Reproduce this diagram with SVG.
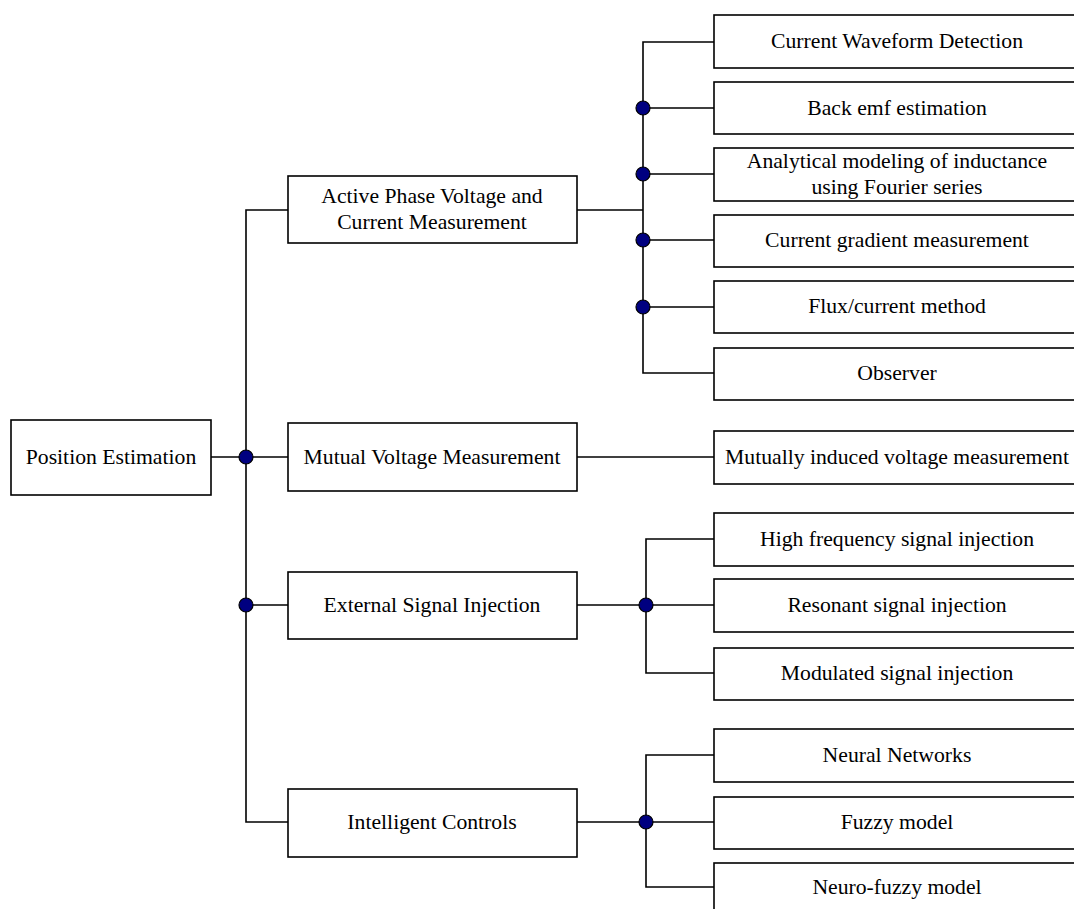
<svg xmlns="http://www.w3.org/2000/svg" width="1074" height="909" viewBox="0 0 1074 909">
  <style>
    .box { fill: #ffffff; stroke: #000000; stroke-width: 1.6; }
    .lbl { font-family: "Liberation Serif", "Times New Roman", serif; font-size: 21.7px; fill: #000000; text-anchor: middle; dominant-baseline: central; }
    .wire { fill: none; stroke: #000000; stroke-width: 1.6; }
    .dot { fill: #000080; stroke: #000000; stroke-width: 1.2; }
  </style>
  <rect width="1074" height="909" fill="#ffffff"/>

  <!-- connectors -->
  <g id="connectors">
    <!-- root to first level -->
    <path class="wire" d="M211 457 H288"/>
    <path class="wire" d="M288 210 H246 V822 H288"/>
    <path class="wire" d="M246 605 H288"/>
    <!-- active phase branch -->
    <path class="wire" d="M577 210 H643"/>
    <path class="wire" d="M714 42 H643 V373 H714"/>
    <path class="wire" d="M643 108 H714 M643 174 H714 M643 240 H714 M643 307 H714"/>
    <!-- mutual branch -->
    <path class="wire" d="M577 457 H714"/>
    <!-- external signal branch -->
    <path class="wire" d="M577 605 H714"/>
    <path class="wire" d="M714 539 H646 V673 H714"/>
    <!-- intelligent controls branch -->
    <path class="wire" d="M577 822 H714"/>
    <path class="wire" d="M714 755 H646 V887 H714"/>
    <!-- junction dots -->
    <circle class="dot" cx="246" cy="457" r="7"/>
    <circle class="dot" cx="246" cy="605" r="7"/>
    <circle class="dot" cx="643" cy="108" r="7"/>
    <circle class="dot" cx="643" cy="174" r="7"/>
    <circle class="dot" cx="643" cy="240" r="7"/>
    <circle class="dot" cx="643" cy="307" r="7"/>
    <circle class="dot" cx="646" cy="605" r="7"/>
    <circle class="dot" cx="646" cy="822" r="7"/>
  </g>

  <!-- root -->
  <g id="position-estimation">
    <rect class="box" x="11" y="420" width="200" height="75"/>
    <text class="lbl" x="111" y="457">Position Estimation</text>
  </g>

  <!-- first level -->
  <g id="active-phase">
    <rect class="box" x="288" y="176" width="289" height="67"/>
    <text class="lbl" x="432" y="196">Active Phase Voltage and</text>
    <text class="lbl" x="432" y="222">Current Measurement</text>
  </g>
  <g id="mutual-voltage">
    <rect class="box" x="288" y="423" width="289" height="68"/>
    <text class="lbl" x="432" y="457">Mutual Voltage Measurement</text>
  </g>
  <g id="external-signal">
    <rect class="box" x="288" y="572" width="289" height="67"/>
    <text class="lbl" x="432" y="605">External Signal Injection</text>
  </g>
  <g id="intelligent-controls">
    <rect class="box" x="288" y="789" width="289" height="68"/>
    <text class="lbl" x="432" y="822">Intelligent Controls</text>
  </g>

  <!-- second level: active phase methods -->
  <g id="current-waveform">
    <rect class="box" x="714" y="15" width="370" height="53"/>
    <text class="lbl" x="897" y="41">Current Waveform Detection</text>
  </g>
  <g id="back-emf">
    <rect class="box" x="714" y="82" width="370" height="52"/>
    <text class="lbl" x="897" y="108">Back emf estimation</text>
  </g>
  <g id="analytical-modeling">
    <rect class="box" x="714" y="148" width="370" height="53"/>
    <text class="lbl" x="897" y="161">Analytical modeling of inductance</text>
    <text class="lbl" x="897" y="187">using Fourier series</text>
  </g>
  <g id="current-gradient">
    <rect class="box" x="714" y="215" width="370" height="52"/>
    <text class="lbl" x="897" y="240">Current gradient measurement</text>
  </g>
  <g id="flux-current">
    <rect class="box" x="714" y="281" width="370" height="52"/>
    <text class="lbl" x="897" y="306">Flux/current method</text>
  </g>
  <g id="observer">
    <rect class="box" x="714" y="348" width="370" height="52"/>
    <text class="lbl" x="897" y="373">Observer</text>
  </g>

  <!-- second level: mutual voltage -->
  <g id="mutually-induced">
    <rect class="box" x="714" y="431" width="370" height="53"/>
    <text class="lbl" x="897" y="457">Mutually induced voltage measurement</text>
  </g>

  <!-- second level: signal injection -->
  <g id="high-frequency">
    <rect class="box" x="714" y="513" width="370" height="53"/>
    <text class="lbl" x="897" y="539">High frequency signal injection</text>
  </g>
  <g id="resonant">
    <rect class="box" x="714" y="579" width="370" height="53"/>
    <text class="lbl" x="897" y="605">Resonant signal injection</text>
  </g>
  <g id="modulated">
    <rect class="box" x="714" y="648" width="370" height="52"/>
    <text class="lbl" x="897" y="673">Modulated signal injection</text>
  </g>

  <!-- second level: intelligent controls -->
  <g id="neural-networks">
    <rect class="box" x="714" y="729" width="370" height="53"/>
    <text class="lbl" x="897" y="755">Neural Networks</text>
  </g>
  <g id="fuzzy-model">
    <rect class="box" x="714" y="797" width="370" height="52"/>
    <text class="lbl" x="897" y="822">Fuzzy model</text>
  </g>
  <g id="neuro-fuzzy">
    <rect class="box" x="714" y="863" width="370" height="60"/>
    <text class="lbl" x="897" y="887">Neuro-fuzzy model</text>
  </g>
</svg>
